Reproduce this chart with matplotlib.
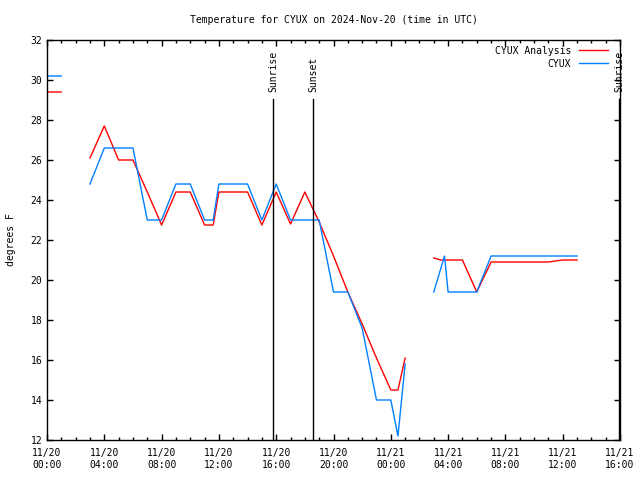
import matplotlib
matplotlib.use('Agg')
import matplotlib.pyplot as plt
import numpy as np

plt.rcParams['font.family'] = 'DejaVu Sans Mono'
plt.rcParams['font.size'] = 7

# hours since 2024-11-20 00:00 UTC, NaN = gap in the record
ana_hours = [0, 1, np.nan, 3, 4, 5, 6, 7, 8, 9, 10, 11, 11.6, 12, 13, 14, 15, 16, 17, 18,
             19, 20, 21, 22, 23, 24, 24.5, 25, np.nan,
             27, 27.5, 28, 29, 30, 31, 32, 33, 34, 35, 36, 37]
ana_temp = [29.4, 29.4, np.nan, 26.1, 27.7, 26.0, 26.0, 24.4, 22.75, 24.4, 24.4, 22.75, 22.75, 24.4, 24.4, 24.4, 22.75, 24.4, 22.8, 24.4,
            22.9, 21.2, 19.4, 17.8, 16.1, 14.5, 14.5, 16.1, np.nan,
            21.1, 21.0, 21.0, 21.0, 19.4, 20.9, 20.9, 20.9, 20.9, 20.9, 21.0, 21.0]

obs_hours = [0, 1, np.nan, 3, 4, 5, 6, 7, 8, 9, 10, 11, 11.6, 12, 13, 14, 15, 16, 17, 18,
             19, 20, 21, 22, 23, 24, 24.5, 25, np.nan,
             27, 27.75, 28, 29, 30, 31, 32, 33, 34, 35, 36, 37]
obs_temp = [30.2, 30.2, np.nan, 24.8, 26.6, 26.6, 26.6, 23.0, 23.0, 24.8, 24.8, 23.0, 23.0, 24.8, 24.8, 24.8, 23.0, 24.8, 23.0, 23.0,
            23.0, 19.4, 19.4, 17.6, 14.0, 14.0, 12.2, 15.8, np.nan,
            19.4, 21.2, 19.4, 19.4, 19.4, 21.2, 21.2, 21.2, 21.2, 21.2, 21.2, 21.2]

sun_events = [(15.78, 'Sunrise'), (18.58, 'Sunset'), (39.95, 'Sunrise')]

tick_hours = list(range(0, 41, 4))
tick_labels = ['11/20\n00:00', '11/20\n04:00', '11/20\n08:00', '11/20\n12:00',
               '11/20\n16:00', '11/20\n20:00', '11/21\n00:00', '11/21\n04:00',
               '11/21\n08:00', '11/21\n12:00', '11/21\n16:00']

fig = plt.figure(figsize=(6.4, 4.8), dpi=100)
ax = fig.add_axes([47 / 640, 40 / 480, 573 / 640, 400 / 480])

ax.plot(ana_hours, ana_temp, color='#ff0000', lw=1.0, label='CYUX Analysis')
ax.plot(obs_hours, obs_temp, color='#0080ff', lw=1.0, label='CYUX')

for h, name in sun_events:
    ax.axvline(h, ymin=0, ymax=0.853, color='black', lw=1.0)
    ax.text(h, 0.87, name, transform=ax.get_xaxis_transform(), rotation=90,
            ha='center', va='bottom')

ax.set_xlim(0, 40)
ax.set_ylim(12, 32)
ax.set_xticks(tick_hours)
ax.set_xticklabels(tick_labels)
ax.set_xticks(range(0, 41), minor=True)
ax.set_yticks(range(12, 33, 2))
ax.tick_params(which='both', direction='in', top=True, right=True, width=1.0)
ax.tick_params(which='major', length=4)
ax.tick_params(which='minor', length=2)
ax.tick_params(axis='x', pad=6)
for s in ax.spines.values():
    s.set_linewidth(1.0)

ax.set_title('Temperature for CYUX on 2024-Nov-20 (time in UTC)', fontsize=7, pad=12)
ax.set_ylabel('degrees F', labelpad=10)

ax.legend(loc='upper right', bbox_to_anchor=(1 - 6 / 573, 1), frameon=False,
          markerfirst=False, handlelength=3, borderaxespad=0.2, labelspacing=0.3)

fig.savefig('out.png', dpi=100)
